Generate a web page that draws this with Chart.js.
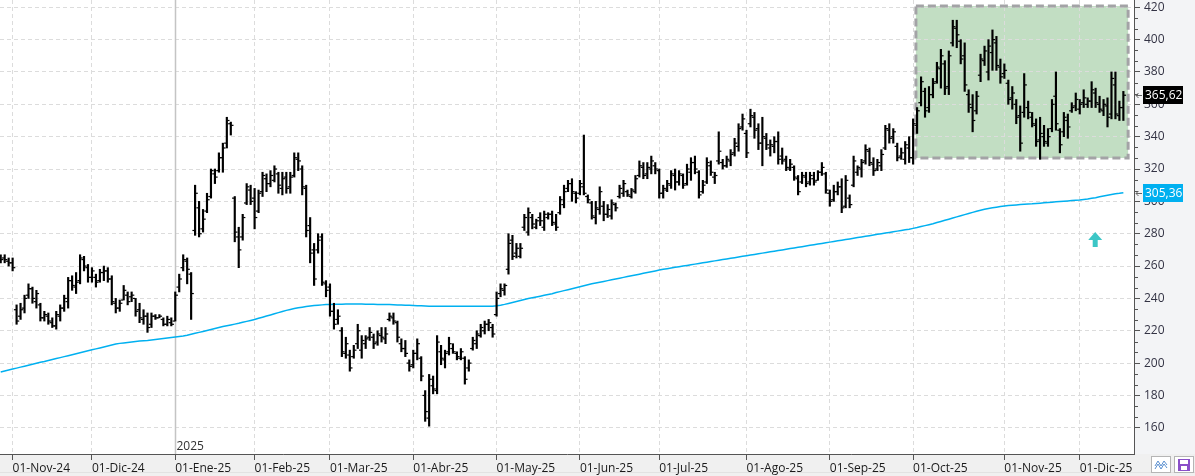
<!DOCTYPE html>
<html>
<head>
<meta charset="utf-8">
<script src="https://cdn.jsdelivr.net/npm/chart.js@4.4.1/dist/chart.umd.min.js"></script>
<style>
  html, body { margin: 0; padding: 0; background: #fff; }
  canvas { display: block; }
</style>
</head>
<body>
<canvas id="chart" width="1195" height="476"></canvas>
<script>
// barras diarias (una por sesion)
var highs = [267,267,265,265,236,237,242,249,247,245,
  237,232,231,228,232,236,242,253,254,256,
  267,266,261,259,255,258,260,259,254,240,
  239,248,244,244,240,237,233,231,231,230,
  230,228,229,228,244,255,267,265,256,310,
  300,295,305,320,320,330,336,352,349,303,
  284,292,311,310,308,307,318,317,319,322,
  318,318,318,318,330,330,322,310,290,274,
  280,280,251,249,237,233,222,216,208,211,
  224,217,217,222,218,220,222,222,231,231,
  226,215,214,202,208,215,204,183,193,192,
  217,211,208,216,212,207,209,204,202,216,
  220,224,226,227,224,244,249,249,280,279,
  274,274,292,296,292,289,293,294,293,294,
  292,303,310,313,314,306,313,341,304,300,
  300,309,300,298,301,299,310,313,307,308,
  316,325,324,324,328,324,320,310,313,319,
  320,319,317,323,327,328,319,313,327,325,
  318,343,326,328,332,339,348,354,344,357,
  355,348,352,342,338,340,343,333,328,326,
  322,316,318,318,318,318,319,324,318,307,
  310,312,314,316,304,328,322,326,335,333,
  327,326,332,347,348,345,336,333,337,340,
  351,358,377,370,371,376,386,394,387,393,
  412,412,400,398,369,366,368,391,396,400,
  406,402,388,385,375,371,363,359,379,362,
  355,351,352,347,345,363,380,345,355,354,
  361,367,363,369,364,374,370,365,363,364,
  380,380,362,368];
var lows = [262,262,260,257,224,227,231,240,237,234,
  226,226,224,222,221,226,232,234,245,243,
  249,257,250,250,247,250,251,250,236,231,
  232,239,236,238,229,225,224,219,222,227,
  228,223,223,223,226,244,257,249,227,279,
  278,281,293,302,311,318,318,333,341,275,
  259,276,298,298,283,293,303,306,309,312,
  305,304,305,305,315,319,304,278,262,248,
  268,248,241,229,221,224,204,203,195,203,
  209,203,209,214,209,211,213,212,226,224,
  213,207,204,195,197,202,189,164,161,181,
  181,199,197,205,206,202,202,187,195,208,
  209,216,218,220,216,229,241,242,255,264,
  265,265,282,279,283,283,285,282,289,285,
  282,292,296,306,300,299,304,304,299,289,
  286,292,288,290,289,294,302,303,303,302,
  305,315,314,314,317,317,302,302,306,308,
  307,310,308,310,313,317,302,305,311,316,
  311,323,320,321,322,328,331,344,327,346,
  339,332,322,332,328,330,323,323,319,319,
  313,304,311,309,310,310,313,316,305,297,
  300,304,293,296,296,309,316,315,323,322,
  316,319,319,332,336,336,325,326,323,324,
  323,342,359,352,355,364,373,370,366,366,
  396,395,385,368,355,343,354,374,384,375,
  381,381,373,376,360,357,348,331,352,351,
  346,334,326,334,334,343,344,330,340,339,
  355,356,354,358,358,358,358,355,353,346,
  351,351,350,350];
var opens = [266,265,263,262,233,229,234,242,246,238,
  236,228,229,225,223,229,234,238,251,247,
  251,264,259,253,253,251,256,257,252,237,
  234,239,242,241,240,233,227,229,224,229,
  228,227,224,225,226,247,259,263,255,282,
  296,283,294,303,317,319,327,336,348,302,
  278,278,299,307,302,294,306,314,311,313,
  317,308,315,309,316,326,320,308,285,270,
  270,278,249,247,232,227,220,206,205,204,
  212,208,212,216,216,213,217,215,227,228,
  225,212,209,200,199,206,203,180,166,186,
  183,207,202,207,209,206,203,203,197,209,
  212,217,220,224,222,230,243,245,258,276,
  268,266,284,281,290,284,290,284,290,292,
  286,293,298,308,311,305,305,309,303,299,
  290,295,297,292,291,298,303,305,306,303,
  306,316,321,317,320,322,319,305,307,310,
  316,312,316,311,318,324,318,306,312,322,
  315,325,324,322,325,330,334,346,342,348,
  352,345,336,339,333,334,337,328,326,320,
  321,314,312,315,312,314,313,318,317,305,
  301,306,309,297,302,310,318,320,325,331,
  323,320,322,333,344,340,334,328,326,333,
  327,347,361,368,358,366,374,382,385,371,
  398,407,399,390,366,358,356,378,387,380,
  392,398,383,379,373,364,360,353,355,358,
  352,347,338,340,336,345,365,344,343,350,
  356,359,357,361,360,362,367,360,356,359,
  354,372,353,358];
var closes = [264,264,262,259,226,233,240,246,240,243,
  228,230,226,223,230,234,240,251,248,250,
  265,260,253,257,250,256,257,252,238,234,
  237,245,238,242,232,228,229,222,229,228,
  229,224,227,224,242,252,264,258,243,305,
  280,289,301,319,315,327,333,350,347,281,
  270,290,309,300,290,305,316,311,316,320,
  310,314,308,315,327,325,309,282,268,252,
  276,250,245,232,224,229,207,212,197,208,
  220,214,215,219,212,218,216,218,229,226,
  216,209,206,198,206,212,192,170,190,184,
  213,203,206,212,207,204,207,190,200,214,
  218,222,224,225,218,240,246,248,274,266,
  271,271,290,293,286,288,288,292,292,287,
  284,301,306,311,306,302,311,305,301,291,
  296,306,292,295,299,296,308,311,304,307,
  314,322,316,321,325,320,305,308,311,317,
  312,317,310,320,324,320,304,310,324,318,
  316,331,322,326,329,336,345,351,330,353,
  344,336,340,335,335,337,326,325,321,323,
  315,306,316,311,316,312,318,321,307,300,
  306,309,296,313,298,325,321,324,332,324,
  319,324,329,345,339,343,327,330,335,327,
  348,356,374,356,366,373,383,390,370,390,
  408,403,388,372,360,350,365,388,393,396,
  400,384,377,381,363,367,352,336,372,355,
  348,337,342,337,340,360,348,335,352,346,
  358,363,360,364,362,369,361,357,360,352,
  376,354,358,365.62];
// media movil (azul), un valor por sesion
var media = [194.5,195.1,195.7,196.3,196.9,197.5,198.1,198.7,199.3,199.9,
  200.5,201.0,201.6,202.2,202.8,203.4,204.0,204.6,205.2,205.8,
  206.4,207.0,207.6,208.2,208.8,209.4,210.0,210.6,211.2,211.8,
  212.2,212.5,212.8,213.1,213.4,213.6,213.8,214.0,214.3,214.6,
  214.9,215.2,215.5,215.8,216.1,216.4,216.7,217.2,217.8,218.4,
  219.0,219.6,220.2,220.8,221.4,222.0,222.6,223.1,223.6,224.1,
  224.6,225.2,225.8,226.4,227.0,227.7,228.4,229.1,229.8,230.5,
  231.2,231.9,232.6,233.2,233.7,234.2,234.6,235.0,235.3,235.6,
  235.8,236.0,236.2,236.3,236.4,236.4,236.4,236.5,236.5,236.5,
  236.5,236.5,236.4,236.4,236.4,236.3,236.3,236.2,236.2,236.1,
  236.0,235.9,235.8,235.7,235.6,235.5,235.4,235.3,235.2,235.1,
  235.1,235.1,235.1,235.1,235.1,235.1,235.1,235.1,235.1,235.1,
  235.1,235.1,235.1,235.1,235.2,235.4,235.8,236.3,236.9,237.5,
  238.1,238.7,239.3,239.9,240.4,240.9,241.4,241.9,242.4,242.9,
  243.6,244.2,244.8,245.4,246.0,246.6,247.2,247.8,248.4,249.0,
  249.5,250.0,250.5,251.0,251.5,252.0,252.5,253.0,253.5,254.0,
  254.5,255.0,255.5,256.0,256.5,257.0,257.5,258.0,258.4,258.8,
  259.2,259.6,260.0,260.4,260.8,261.2,261.6,262.0,262.4,262.8,
  263.2,263.6,264.0,264.4,264.8,265.2,265.6,266.0,266.4,266.8,
  267.2,267.6,268.0,268.4,268.8,269.2,269.6,270.0,270.4,270.8,
  271.2,271.6,272.0,272.4,272.8,273.2,273.6,274.0,274.4,274.8,
  275.2,275.6,276.0,276.4,276.8,277.2,277.6,278.0,278.4,278.8,
  279.2,279.6,280.0,280.4,280.8,281.2,281.6,282.0,282.4,282.8,
  283.3,283.8,284.4,285.0,285.6,286.2,286.9,287.6,288.3,289.0,
  289.7,290.4,291.1,291.8,292.5,293.2,293.9,294.5,295.1,295.6,
  296.0,296.4,296.8,297.1,297.4,297.6,297.8,298.0,298.2,298.4,
  298.5,298.7,298.9,299.1,299.3,299.5,299.7,299.9,300.1,300.3,
  300.5,300.7,300.9,301.2,301.5,301.9,302.3,302.8,303.3,303.8,
  304.3,304.7,305.0,305.36];

// primera sesion de cada mes (indice de la barra) y su etiqueta
var monthStarts = [3,23,44,64,83,104,125,146,166,188,209,230,253,272];
var monthLabels = ['01-Nov-24','01-Dic-24','01-Ene-25','01-Feb-25','01-Mar-25','01-Abr-25',
  '01-May-25','01-Jun-25','01-Jul-25','01-Ago-25','01-Sep-25','01-Oct-25','01-Nov-25','01-Dic-25'];
var yTicks = [160,180,200,220,240,260,280,300,320,340,360,380,400,420];

var lastPrice = 365.62;
var lastMedia = 305.36;
var yearIdx = 44; // linea del 2025

// caja verde (zona lateral) y flecha
var zona = { from: 230.7, to: 284.2, top: 420.8, bottom: 326.8 };
var flecha = { x: 275.9, y: 281 };

var FONT = '"Open Sans", "Noto Sans", sans-serif';

function fmt(v) { return v.toFixed(2).replace('.', ','); }

var fondoPlugin = {
  id: 'fondo',
  beforeDraw: function(chart) {
    var c = chart.ctx, a = chart.chartArea, W = chart.width, H = chart.height;
    var x = chart.scales.x, y = chart.scales.y;
    c.save();
    c.fillStyle = '#ffffff';
    c.fillRect(0, 0, W, H);
    c.fillStyle = '#f3f4f6';
    c.fillRect(a.right, 0, W - a.right, a.bottom);
    c.fillStyle = '#f0f0f0';
    c.fillRect(0, a.bottom, W, H - a.bottom);
    c.fillStyle = '#e2e2e2';
    c.fillRect(0, H - 4, W, 1);
    // caja verde
    var x1 = x.getPixelForValue(zona.from), x2 = x.getPixelForValue(zona.to);
    var y1 = y.getPixelForValue(zona.top), y2 = y.getPixelForValue(zona.bottom);
    c.fillStyle = '#c2dec3';
    c.fillRect(x1, y1, x2 - x1, y2 - y1);
    c.restore();
  },
  beforeDatasetsDraw: function(chart) {
    var c = chart.ctx, a = chart.chartArea;
    var x = chart.scales.x, y = chart.scales.y;
    c.save();
    // linea del cambio de año
    var xy = Math.round(x.getPixelForValue(yearIdx)) + 0.5;
    c.strokeStyle = '#c4c4c4';
    c.lineWidth = 1.5;
    c.beginPath(); c.moveTo(xy, a.top); c.lineTo(xy, a.bottom); c.stroke();
    c.fillStyle = '#333';
    c.font = '12px ' + FONT;
    c.textBaseline = 'bottom';
    c.fillText('2025', xy + 1, a.bottom - 1);
    // borde de la caja
    var x1 = x.getPixelForValue(zona.from), x2 = x.getPixelForValue(zona.to);
    var y1 = y.getPixelForValue(zona.top), y2 = y.getPixelForValue(zona.bottom);
    c.strokeStyle = '#a3a3a6';
    c.lineWidth = 3;
    c.setLineDash([8, 4]);
    c.strokeRect(x1, y1, x2 - x1, y2 - y1);
    c.restore();
  },
  afterDraw: function(chart) {
    var c = chart.ctx, a = chart.chartArea;
    var x = chart.scales.x, y = chart.scales.y;
    c.save();
    // ticks menores del eje de precios
    c.strokeStyle = '#555';
    c.lineWidth = 1;
    for (var v = 160; v < 420; v += 20) {
      for (var k = 1; k < 3; k++) {
        var py = Math.round(y.getPixelForValue(v + k * 20 / 3)) + 0.5;
        c.beginPath(); c.moveTo(a.right, py); c.lineTo(a.right + 4, py); c.stroke();
      }
    }
    // flecha verde
    var fx = x.getPixelForValue(flecha.x), fy = y.getPixelForValue(flecha.y);
    c.fillStyle = '#3cc6c6';
    c.beginPath();
    c.moveTo(fx, fy);
    c.lineTo(fx + 7, fy + 8);
    c.lineTo(fx + 2.5, fy + 8);
    c.lineTo(fx + 2.5, fy + 15);
    c.lineTo(fx - 2.5, fy + 15);
    c.lineTo(fx - 2.5, fy + 8);
    c.lineTo(fx - 7, fy + 8);
    c.closePath();
    c.fill();
    // etiquetas de precio
    c.font = '12px ' + FONT;
    c.textBaseline = 'middle';
    [[lastPrice, '#000000'], [lastMedia, '#00b0f0']].forEach(function(p) {
      var py = Math.round(y.getPixelForValue(p[0]));
      c.fillStyle = p[1];
      c.fillRect(a.right + 9, py - 9, 40, 18);
      c.fillStyle = '#ffffff';
      c.fillText(fmt(p[0]), a.right + 11, py + 1);
      c.strokeStyle = '#666';
      c.beginPath();
      c.moveTo(a.right + 8, py + 0.5); c.lineTo(a.right + 2, py + 0.5);
      c.moveTo(a.right + 4.5, py - 2); c.lineTo(a.right + 2, py + 0.5); c.lineTo(a.right + 4.5, py + 3);
      c.stroke();
    });
    // botones abajo a la derecha
    c.fillStyle = '#ffffff';
    c.strokeStyle = '#b5b5b5';
    c.fillRect(1151.5, 456.5, 19, 16); c.strokeRect(1151.5, 456.5, 19, 16);
    c.fillRect(1174.5, 456.5, 19, 16); c.strokeRect(1174.5, 456.5, 19, 16);
    c.strokeStyle = '#5a8fd0';
    c.beginPath();
    c.moveTo(1155, 466); c.lineTo(1158, 461); c.lineTo(1161, 466); c.lineTo(1164, 461); c.lineTo(1167, 465);
    c.moveTo(1155, 469); c.lineTo(1158, 464); c.lineTo(1161, 469); c.lineTo(1164, 464); c.lineTo(1167, 468);
    c.stroke();
    c.fillStyle = '#8a4fc8';
    c.fillRect(1178, 459, 12, 12);
    c.fillStyle = '#ffffff';
    c.fillRect(1180, 460, 8, 4);
    c.fillRect(1181, 466, 6, 4);
    c.restore();
  }
};

var ctx = document.getElementById('chart').getContext('2d');
var chart = new Chart(ctx, {
  data: {
    datasets: [{
      type: 'line',
      label: 'Media',
      data: media.map(function(v, i) { return { x: i, y: v }; }),
      borderColor: '#00b0f0',
      borderWidth: 1.5,
      pointRadius: 0,
      order: 4
    }, {
      type: 'bar',
      label: 'Rango',
      data: highs.map(function(h, i) { return { x: i, y: [lows[i], h] }; }),
      backgroundColor: '#000000',
      barThickness: 1.5,
      order: 3
    }, {
      type: 'scatter',
      label: 'Apertura',
      data: opens.map(function(v, i) { return { x: i - 0.4, y: v }; }),
      pointStyle: 'line',
      pointRadius: 1.1,
      borderColor: '#000000',
      borderWidth: 1.2,
      order: 2
    }, {
      type: 'scatter',
      label: 'Cierre',
      data: closes.map(function(v, i) { return { x: i + 0.4, y: v }; }),
      pointStyle: 'line',
      pointRadius: 1.1,
      borderColor: '#000000',
      borderWidth: 1.2,
      order: 1
    }]
  },
  options: {
    responsive: false,
    animation: false,
    events: [],
    layout: { padding: 0, autoPadding: false },
    plugins: { legend: { display: false }, tooltip: { enabled: false } },
    scales: {
      x: {
        type: 'linear',
        offset: false,
        min: -0.18,
        max: 285.68,
        afterBuildTicks: function(s) { s.ticks = monthStarts.map(function(v) { return { value: v }; }); },
        afterFit: function(s) { s.height = 22; s.paddingLeft = 0; s.paddingRight = 0; },
        ticks: {
          autoSkip: false,
          maxRotation: 0,
          align: 'start',
          padding: 1,
          color: '#1a1a1a',
          font: { family: FONT, size: 12 },
          callback: function(v) { return monthLabels[monthStarts.indexOf(v)]; }
        },
        grid: { offset: false, color: '#dcdcdc', tickColor: '#555', tickLength: 6 },
        border: { color: '#555', dash: [4, 3] }
      },
      y: {
        position: 'right',
        min: 143.8,
        max: 424.5,
        afterBuildTicks: function(s) { s.ticks = yTicks.map(function(v) { return { value: v }; }); },
        afterFit: function(s) { s.width = 61; s.paddingTop = 0; s.paddingBottom = 0; },
        ticks: {
          padding: 4,
          color: '#333344',
          font: { family: FONT, size: 12 },
          callback: function(v) { return String(v); }
        },
        grid: { color: '#dcdcdc', tickColor: '#555', tickLength: 6 },
        border: { color: '#555', dash: [4, 3] }
      }
    }
  },
  plugins: [fondoPlugin]
});
</script>
</body>
</html>
